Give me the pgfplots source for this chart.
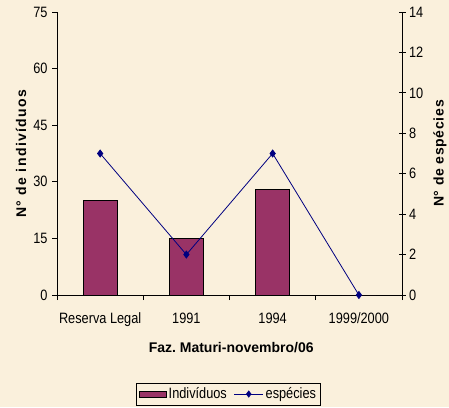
\documentclass[border=0pt]{standalone}
\usepackage{fontspec}
\setmainfont{Liberation Sans}
\newfontfamily\narrowfont{Liberation Sans}[FakeStretch=0.85]
\usepackage{pgfplots}
\pgfplotsset{compat=1.18}
\definecolor{bgcol}{HTML}{FAF0DC}
\definecolor{barcol}{HTML}{993366}
\definecolor{linecol}{HTML}{000080}
\newcommand{\tickfont}{\narrowfont\fontsize{15}{17}\selectfont}
\begin{document}
\begin{tikzpicture}
\fill[bgcol] (0,0) rectangle (449pt,407pt);
\useasboundingbox (0,0) rectangle (449pt,407pt);
\begin{axis}[
  at={(57pt,112pt)}, anchor=south west,
  scale only axis, width=345pt, height=283pt,
  xmin=-0.5, xmax=3.5, ymin=0, ymax=75,
  axis y line*=left, axis x line*=bottom,
  axis line style={-, black, line width=0.8pt},
  ytick={0,15,...,75},
  xtick={-0.5,0.5,1.5,2.5,3.5},
  x tick label as interval,
  xticklabels={Reserva Legal,1991,1994,1999/2000},
  tick align=outside, major tick length=5pt,
  tick style={black, line width=0.8pt},
  ticklabel style={font=\tickfont},
  xticklabel style={yshift=-9pt},
  yticklabel style={xshift=-1pt},
  /pgf/number format/assume math mode=true,
  xlabel={\fontsize{14}{16}\selectfont\bfseries Faz.\ Maturi-novembro/06},
  xlabel style={at={(rel axis cs:0.505,-0.187)}, anchor=center},
  ylabel={\fontsize{14}{16}\selectfont\bfseries\addfontfeature{LetterSpace=10}N° de indivíduos},
  ylabel style={at={(rel axis cs:-0.104,0.5)}, anchor=center},
  ybar, bar width=34pt,
]
\addplot[fill=barcol, draw=black, line width=0.8pt] coordinates {(0,25) (1,15) (2,28) (3,0)};
\end{axis}
\begin{axis}[
  at={(57pt,112pt)}, anchor=south west,
  scale only axis, width=345pt, height=283pt,
  xmin=-0.5, xmax=3.5, ymin=0, ymax=14,
  axis y line*=right, axis x line=none,
  axis line style={-, black, line width=0.8pt},
  ytick={0,2,...,14},
  tick align=center, major tick length=7pt,
  tick style={black, line width=0.8pt},
  ticklabel style={font=\tickfont},
  /pgf/number format/assume math mode=true,
  ylabel={\fontsize{14}{16}\selectfont\bfseries\addfontfeature{LetterSpace=5}N° de espécies},
  ylabel style={at={(rel axis cs:1.110,0.5)}, anchor=center},
  clip=false,
  legend style={at={(0.497,-0.350)}, anchor=center, legend columns=2,
    draw=black, fill=bgcol, font=\tickfont, inner sep=2.5pt,
    /tikz/every even column/.append style={column sep=5pt}},
  legend cell align=left,
]
\addlegendimage{legend image code/.code={\draw[fill=barcol, draw=black, line width=0.8pt] (0pt,-3pt) rectangle (27pt,3pt);}}
\addlegendentry{Indivíduos}
\addplot[color=linecol, line width=0.8pt, mark=diamond*, mark size=3.5pt,
  mark options={fill=linecol},
  legend image code/.code={\draw[linecol, line width=0.8pt] (0pt,0pt) -- (29pt,0pt);
    \draw[linecol, fill=linecol] plot[mark=diamond*, mark size=3pt] coordinates {(14.5pt,0pt)};}]
  coordinates {(0,7) (1,2) (2,7) (3,0)};
\addlegendentry{espécies}
\end{axis}
\end{tikzpicture}
\end{document}
